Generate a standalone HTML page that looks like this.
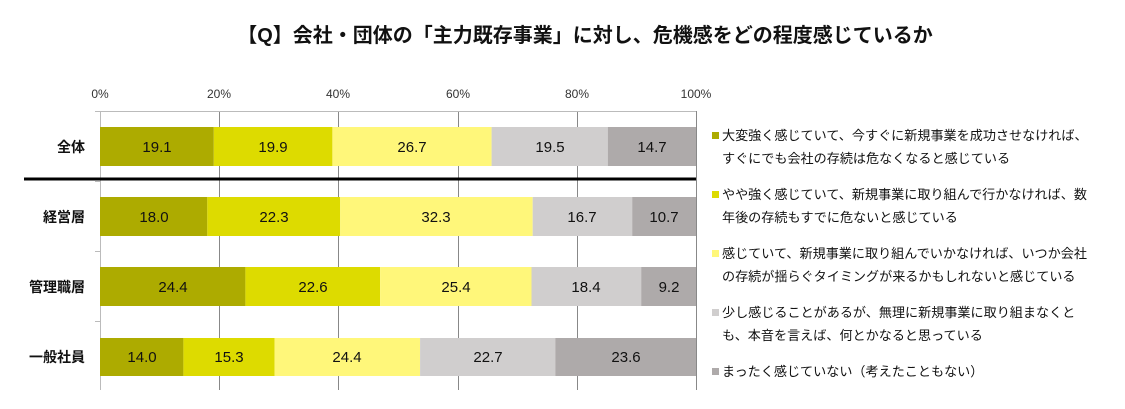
<!DOCTYPE html>
<html><head><meta charset="utf-8"><style>
body{margin:0;background:#fff;}
svg{display:block;font-family:"Liberation Sans","Noto Sans CJK JP",sans-serif;}
</style></head><body>
<svg width="1125" height="409" viewBox="0 0 1125 409" xmlns="http://www.w3.org/2000/svg">
<text x="585" y="42" text-anchor="middle" font-size="20" font-weight="bold" fill="#111">【Q】会社・団体の「主力既存事業」に対し、危機感をどの程度感じているか</text>
<g font-size="12" fill="#333" text-anchor="middle">
<text x="100" y="98">0%</text><text x="219" y="98">20%</text><text x="338" y="98">40%</text><text x="458" y="98">60%</text><text x="577" y="98">80%</text><text x="696" y="98">100%</text>
</g>
<g stroke="#888" stroke-width="1">
<line x1="219.5" y1="111" x2="219.5" y2="390"/><line x1="338.5" y1="111" x2="338.5" y2="390"/><line x1="458.5" y1="111" x2="458.5" y2="390"/><line x1="577.5" y1="111" x2="577.5" y2="390"/>
</g>
<g stroke="#bbb" stroke-width="1">
<line x1="100.5" y1="111" x2="100.5" y2="390"/><line x1="95" y1="111.5" x2="696" y2="111.5"/>
<line x1="95" y1="251.5" x2="100" y2="251.5"/><line x1="95" y1="321.5" x2="100" y2="321.5"/><line x1="95" y1="181.5" x2="100" y2="181.5"/>
</g>
<line x1="696.5" y1="111" x2="696.5" y2="390" stroke="#888"/>
<g>
<rect x="100" y="127" width="113.8" height="39" fill="#adab00"/><rect x="213.8" y="127" width="118.6" height="39" fill="#dddb00"/><rect x="332.4" y="127" width="159.2" height="39" fill="#fff77a"/><rect x="491.6" y="127" width="116.2" height="39" fill="#d0cece"/><rect x="607.8" y="127" width="88.2" height="39" fill="#aeaaaa"/>
<rect x="100" y="197" width="107.3" height="39" fill="#adab00"/><rect x="207.3" y="197" width="132.9" height="39" fill="#dddb00"/><rect x="340.2" y="197" width="192.5" height="39" fill="#fff77a"/><rect x="532.7" y="197" width="99.5" height="39" fill="#d0cece"/><rect x="632.2" y="197" width="63.8" height="39" fill="#aeaaaa"/>
<rect x="100" y="267" width="145.4" height="39" fill="#adab00"/><rect x="245.4" y="267" width="134.7" height="39" fill="#dddb00"/><rect x="380.1" y="267" width="151.4" height="39" fill="#fff77a"/><rect x="531.5" y="267" width="109.7" height="39" fill="#d0cece"/><rect x="641.2" y="267" width="54.8" height="39" fill="#aeaaaa"/>
<rect x="100" y="338" width="83.4" height="38" fill="#adab00"/><rect x="183.4" y="338" width="91.2" height="38" fill="#dddb00"/><rect x="274.6" y="338" width="145.5" height="38" fill="#fff77a"/><rect x="420.1" y="338" width="135.2" height="38" fill="#d0cece"/><rect x="555.3" y="338" width="140.7" height="38" fill="#aeaaaa"/>
</g>
<line x1="24" y1="179" x2="696" y2="179" stroke="#000" stroke-width="3"/>
<g font-size="15" fill="#111" text-anchor="middle">
<text x="157" y="152">19.1</text><text x="273" y="152">19.9</text><text x="412" y="152">26.7</text><text x="550" y="152">19.5</text><text x="652" y="152">14.7</text>
<text x="154" y="222">18.0</text><text x="274" y="222">22.3</text><text x="436" y="222">32.3</text><text x="582" y="222">16.7</text><text x="664" y="222">10.7</text>
<text x="173" y="292">24.4</text><text x="313" y="292">22.6</text><text x="456" y="292">25.4</text><text x="586" y="292">18.4</text><text x="669" y="292">9.2</text>
<text x="142" y="362">14.0</text><text x="229" y="362">15.3</text><text x="347" y="362">24.4</text><text x="488" y="362">22.7</text><text x="626" y="362">23.6</text>
</g>
<g font-size="14" font-weight="bold" fill="#111" text-anchor="end">
<text x="85" y="152">全体</text><text x="85" y="222">経営層</text><text x="85" y="292">管理職層</text><text x="85" y="362">一般社員</text>
</g>
<g font-size="13.1" fill="#111">
<rect x="712" y="132" width="7" height="7" fill="#adab00"/>
<text x="722" y="140">大変強く感じていて、今すぐに新規事業を成功させなければ、</text>
<text x="722" y="163">すぐにでも会社の存続は危なくなると感じている</text>
<rect x="712" y="191" width="7" height="7" fill="#dddb00"/>
<text x="722" y="199">やや強く感じていて、新規事業に取り組んで行かなければ、数</text>
<text x="722" y="222">年後の存続もすでに危ないと感じている</text>
<rect x="712" y="250" width="7" height="7" fill="#fff77a"/>
<text x="722" y="258">感じていて、新規事業に取り組んでいかなければ、いつか会社</text>
<text x="722" y="281">の存続が揺らぐタイミングが来るかもしれないと感じている</text>
<rect x="712" y="309" width="7" height="7" fill="#d0cece"/>
<text x="722" y="317">少し感じることがあるが、無理に新規事業に取り組まなくと</text>
<text x="722" y="340">も、本音を言えば、何とかなると思っている</text>
<rect x="712" y="368" width="7" height="7" fill="#aeaaaa"/>
<text x="722" y="376">まったく感じていない（考えたこともない）</text>
</g>
</svg>
</body></html>
